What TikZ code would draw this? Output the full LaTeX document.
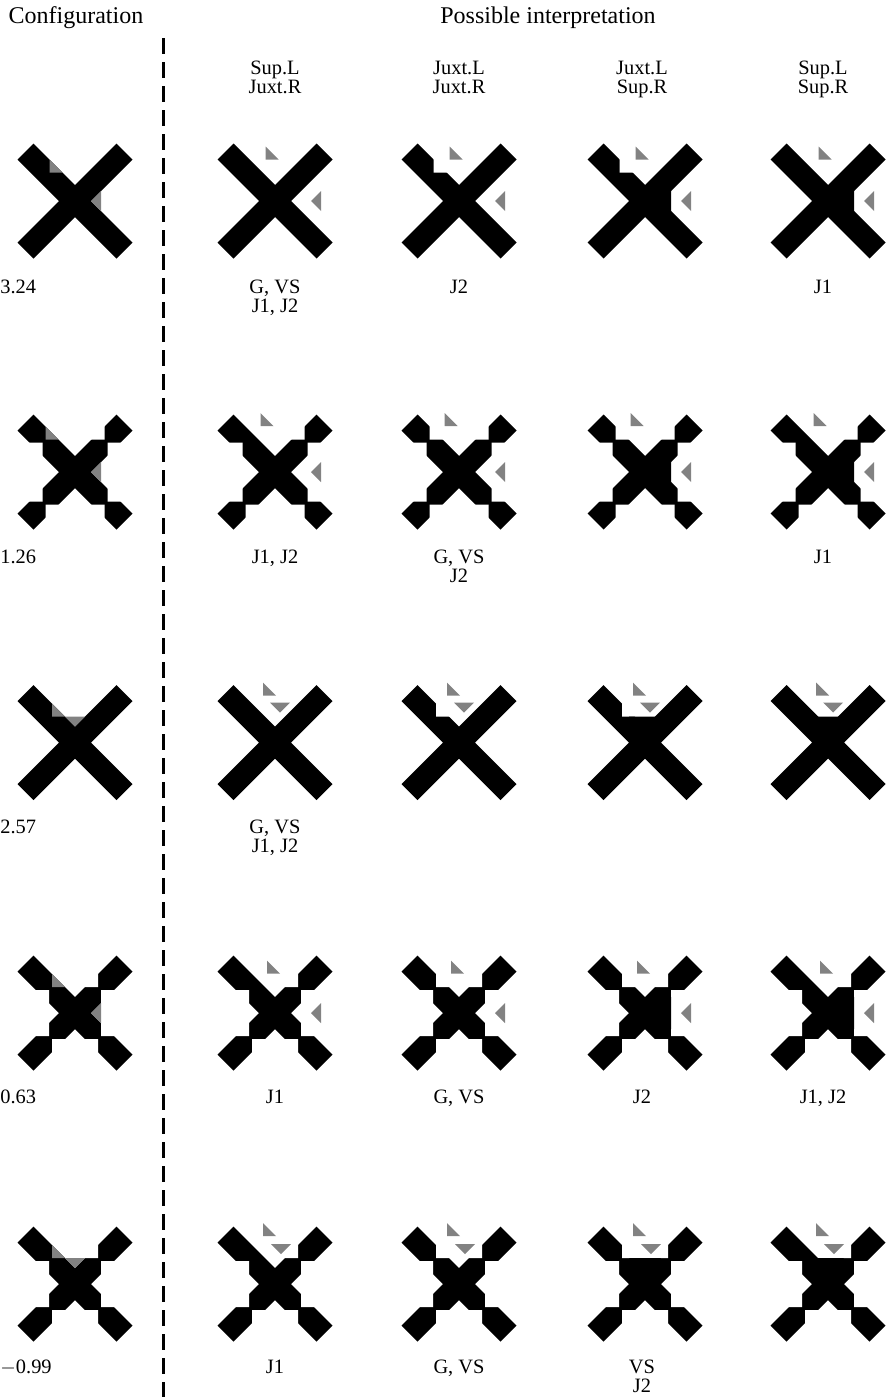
\documentclass[tikz,border=0pt]{standalone}
\usepackage{fontspec}
\setmainfont{Liberation Serif}
\usepackage{tikz}
\usetikzlibrary{positioning}
\definecolor{patchgray}{HTML}{828282}
\tikzset{
  body/.style={fill=black},
  hole/.style={fill=white},
  patchfill/.style={fill=patchgray},
  head/.style={font=\fontsize{12}{14}\selectfont,inner sep=0pt},
  lbl/.style={font=\fontsize{10.2}{9.2}\selectfont,align=center,anchor=north,inner sep=0pt},
  score/.style={font=\fontsize{10.2}{9.2}\selectfont,anchor=north west,inner sep=0pt},
  divider/.style={line width=1.5pt,dash pattern=on 8pt off 4pt}
}

% row settings: notch offset, bumpy arms, notch kind (0 side, 1 top), shifts of the loose patches
\newcommand{\setrow}[7]{\def\xm{#1}\def\xbumpy{#2}\def\xvee{#3}%
  \def\xLsx{#4}\def\xLsy{#5}\def\xRsx{#6}\def\xRsy{#7}}

\newcommand{\lpatch}[1]{\fill[#1] (\jxa,\jxe) -- (\jxa,\jxb) -- (\jxf,\jxb) -- cycle;}
\newcommand{\lhole}{\fill[hole] (\jxa,\jxc) -- (\jxa,\jxb) -- (\jxd,\jxb) -- cycle;}
\newcommand{\rpatch}[1]{\ifnum\xvee=0\relax
    \fill[#1] (16,0) -- (26,-10) -- (26,10) -- cycle;
  \else
    \fill[#1] (-10,-26) -- (10,-26) -- (0,-16) -- cycle;
  \fi}
\newcommand{\rfill}{\ifnum\xvee=0\relax
    \fill[body] (10,0) -- (26,-16) -- (26,16) -- cycle;
  \else
    \fill[body] (-16,-26) -- (16,-26) -- (0,-10) -- cycle;
  \fi}

% one cross: centre x, centre y, left patch mode, right patch mode (0 config, 1 sup, 2 juxt)
\newcommand{\xcross}[4]{%
  \begin{scope}[shift={(#1,#2)}]
    \pgfmathsetmacro\jxa{-\xm+1.5}
    \pgfmathsetmacro\jxb{-\xm-1.5}
    \pgfmathsetmacro\jxc{-\xm-16}
    \pgfmathsetmacro\jxd{-\xm+16}
    \pgfmathsetmacro\jxe{-\xm-14.5}
    \pgfmathsetmacro\jxf{-\xm+14.5}
    \fill[body] (0,-16) -- (41.5,-57.5) -- (57.5,-41.5) -- (16,0) -- (57.5,41.5)
      -- (41.5,57.5) -- (0,16) -- (-41.5,57.5) -- (-57.5,41.5) -- (-16,0)
      -- (-57.5,-41.5) -- (-41.5,-57.5) -- cycle;
    \ifnum\xbumpy=1\relax
      \foreach \sx/\sy in {1/1,1/-1,-1/1,-1/-1}{
        \begin{scope}[xscale=\sx,yscale=\sy]
          \fill[hole] (\jxc,\jxa) -- (\jxb,\jxa) -- (\jxb,\jxd) -- cycle;
          \ifnum\numexpr\sx+\sy\relax<2\relax \lhole \fi
        \end{scope}
      }
    \fi
    \ifcase#3\relax \lpatch{patchfill}\or\or\lhole\fi
    \ifcase#4\relax \rpatch{patchfill}\or\rfill\or\fi
    \ifnum#3>0\relax
      \begin{scope}[shift={(\xLsx,\xLsy)}]\lpatch{patchfill}\end{scope}
      \begin{scope}[shift={(\xRsx,\xRsy)}]\rpatch{patchfill}\end{scope}
    \fi
  \end{scope}}

\begin{document}
\begin{tikzpicture}[x=0.5pt,y=-0.5pt]
  \useasboundingbox (0,0) rectangle (888,1397);

  % headings
  \node[head] (cfg) at (76,18) {Configuration};
  \node[head] (poss) at (548,18) {Possible interpretation};
  \node[lbl] (h1) at (275,61) {Sup.L\\Juxt.R};
  \node[lbl] (h2) at (459,61) {Juxt.L\\Juxt.R};
  \node[lbl] (h3) at (642,61) {Juxt.L\\Sup.R};
  \node[lbl] (h4) at (823,61) {Sup.L\\Sup.R};

  % separator
  \coordinate (divtop) at (163,38);
  \coordinate (divbot) at (163,1397);
  \draw[divider] (divtop) -- (divbot);

  % rows of crosses
  \setrow{27}{0}{0}{16}{-13}{20}{0}
  \foreach \cx/\lmode/\rmode in {75/0/0,275/1/2,459/2/2,645/2/1,828/1/1}
    {\xcross{\cx}{201}{\lmode}{\rmode}}
  \setrow{31}{1}{0}{15}{-13.5}{20}{0}
  \foreach \cx/\lmode/\rmode in {75/0/0,275/1/2,459/2/2,645/2/1,828/1/1}
    {\xcross{\cx}{472}{\lmode}{\rmode}}
  \setrow{24.5}{0}{1}{11}{-21}{5}{-14}
  \foreach \cx/\lmode/\rmode in {75/0/0,275/1/2,459/2/2,645/2/1,828/1/1}
    {\xcross{\cx}{742.5}{\lmode}{\rmode}}
  \setrow{24.5}{1}{0}{15}{-13.5}{20}{0}
  \foreach \cx/\lmode/\rmode in {75/0/0,275/1/2,459/2/2,645/2/1,828/1/1}
    {\xcross{\cx}{1013}{\lmode}{\rmode}}
  \setrow{24.5}{1}{1}{11}{-22}{6}{-14}
  \foreach \cx/\lmode/\rmode in {75/0/0,275/1/2,459/2/2,645/2/1,828/1/1}
    {\xcross{\cx}{1284}{\lmode}{\rmode}}

  % scores
  \node[score] (s1) at (0,280) {3.24};
  \node[score] (s2) at (0,550) {1.26};
  \node[score] (s3) at (0,820) {2.57};
  \node[score] (s4) at (0,1090) {0.63};
  \node[score] (s5) at (0,1360) {$-$0.99};

  % model labels
  \node[lbl] (a1) at (275,280) {G, VS\\J1, J2};
  \node[lbl] (a2) at (459,280) {J2};
  \node[lbl] (a4) at (823,280) {J1};
  \node[lbl] (b1) at (275,550) {J1, J2};
  \node[lbl] (b2) at (459,550) {G, VS\\J2};
  \node[lbl] (b4) at (823,550) {J1};
  \node[lbl] (c1) at (275,820) {G, VS\\J1, J2};
  \node[lbl] (d1) at (275,1090) {J1};
  \node[lbl] (d2) at (459,1090) {G, VS};
  \node[lbl] (d3) at (642,1090) {J2};
  \node[lbl] (d4) at (823,1090) {J1, J2};
  \node[lbl] (e1) at (275,1360) {J1};
  \node[lbl] (e2) at (459,1360) {G, VS};
  \node[lbl] (e3) at (642,1360) {VS\\J2};
\end{tikzpicture}
\end{document}
